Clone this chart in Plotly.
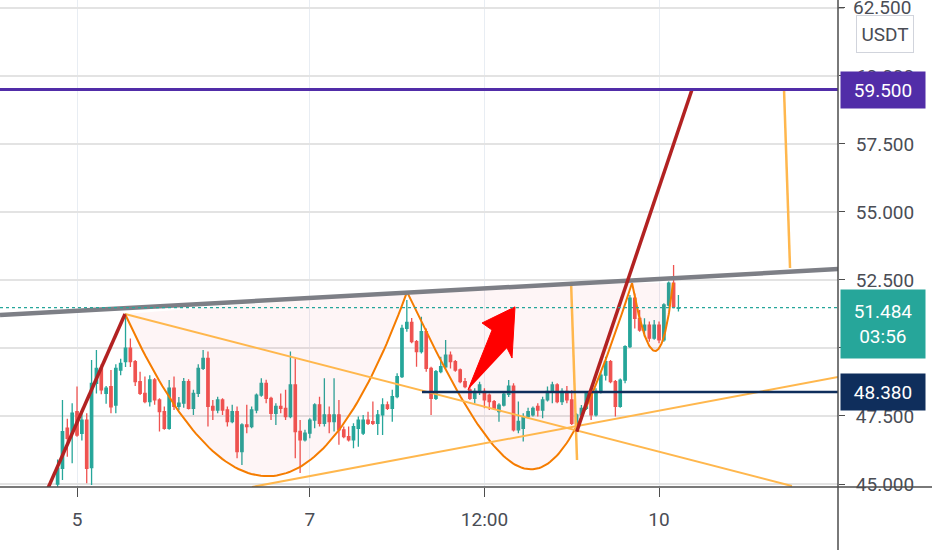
import numpy as np
import pandas as pd
import plotly.graph_objects as go

# hourly candles, hour 0 = day 5 00:00
BASE = pd.Timestamp("2019-11-05 00:00")
hours = list(range(-4, 125))

opens = [45.0, 45.58, 47.05, 46.86, 47.66, 46.86, 47.35, 45.6, 48.7, 49.25,
         48.33, 48.58, 47.9, 49.19, 49.5, 49.99, 49.5, 48.76, 48.33, 48.03,
         48.83, 48.09, 47.66, 47.05, 48.52, 47.85, 47.97, 48.76, 47.78, 48.33,
         49.25, 49.62, 47.85, 47.72, 48.09, 47.72, 47.29, 47.66, 46.19, 47.17,
         47.11, 47.72, 48.27, 48.7, 48.15, 47.6, 47.85, 47.78, 47.48, 48.64,
         46.93, 46.62, 46.87, 47.35, 47.91, 47.23, 47.54, 47.29, 47.54, 46.99,
         46.74, 46.62, 47.05, 46.87, 47.35, 47.29, 47.23, 47.54, 47.91, 47.78,
         48.21, 48.95, 50.72, 50.94, 50.23, 49.87, 50.6, 49.25, 48.15, 49.13,
         49.31, 49.74, 49.5, 49.19, 48.76, 48.46, 48.15, 48.4, 48.4, 48.27,
         48.03, 47.66, 47.9, 48.3, 48.6, 46.99, 47.05, 47.48, 47.54, 47.85,
         47.72, 48.09, 48.4, 48.64, 48.03, 48.4, 48.09, 47.23, 47.54, 47.78,
         48.33, 47.54, 48.4, 49.0, 49.5, 48.76, 47.85, 48.82, 50.05, 51.83,
         51.09, 50.66, 50.84, 50.36, 50.84, 50.3, 51.58, 52.38, 51.46]
highs = [45.9, 48.09, 47.4, 47.97, 48.58, 47.6, 47.6, 49.56, 49.93, 49.4,
         48.6, 49.19, 49.4, 49.6, 51.28, 50.35, 49.56, 49.13, 48.95, 49.0,
         48.9, 48.15, 47.85, 48.82, 48.95, 48.2, 48.9, 48.85, 48.46, 49.4,
         49.93, 49.87, 48.09, 48.21, 48.15, 47.85, 47.91, 47.85, 47.23, 47.91,
         47.85, 48.33, 48.89, 48.83, 48.21, 47.97, 48.33, 48.46, 49.87, 49.62,
         47.35, 46.99, 47.42, 47.97, 48.21, 48.89, 47.85, 48.89, 48.09, 47.11,
         47.11, 47.23, 47.48, 47.54, 47.66, 48.03, 47.72, 48.15, 48.03, 48.46,
         49.07, 50.85, 51.76, 51.1, 50.29, 51.15, 50.72, 49.31, 49.19, 49.68,
         50.29, 49.87, 49.56, 49.25, 48.9, 48.58, 48.52, 48.76, 48.52, 48.33,
         48.09, 47.97, 48.4, 48.82, 48.7, 48.03, 47.6, 47.8, 47.85, 47.97,
         48.21, 48.58, 48.76, 48.7, 48.52, 48.6, 48.45, 47.6, 47.9, 48.4,
         48.4, 48.52, 49.13, 49.68, 49.56, 48.82, 48.88, 50.1, 51.95, 52.0,
         51.4, 51.09, 50.97, 51.03, 50.97, 51.64, 52.44, 53.05, 51.95]
lows = [44.9, 45.15, 46.0, 45.76, 46.74, 46.6, 45.03, 44.96, 48.33, 48.3,
        47.95, 47.6, 47.6, 49.0, 49.3, 49.3, 48.6, 48.27, 47.97, 47.85,
        47.91, 46.93, 46.99, 46.99, 47.72, 47.72, 47.8, 47.74, 47.54, 48.2,
        49.19, 47.11, 47.35, 47.6, 47.54, 47.11, 47.23, 45.95, 45.7, 46.87,
        47.05, 47.6, 48.21, 47.97, 47.35, 47.17, 47.6, 47.35, 47.42, 45.95,
        45.4, 46.56, 46.68, 47.05, 47.11, 47.11, 46.87, 46.93, 46.44, 46.68,
        46.56, 46.31, 46.37, 46.8, 47.17, 47.17, 46.8, 46.8, 47.72, 47.29,
        48.15, 48.9, 50.6, 50.17, 49.31, 49.8, 49.13, 47.54, 48.09, 49.07,
        49.25, 49.25, 49.13, 48.7, 48.52, 48.09, 47.97, 48.27, 47.78, 47.72,
        47.72, 47.29, 47.85, 48.2, 46.93, 46.87, 46.56, 47.42, 47.48, 47.48,
        47.42, 48.03, 47.97, 47.97, 47.9, 47.97, 47.17, 47.1, 47.48, 47.72,
        47.35, 47.48, 48.33, 48.8, 48.7, 47.48, 47.8, 48.7, 50.0, 50.72,
        50.6, 50.42, 50.23, 50.3, 50.17, 50.23, 51.52, 51.46, 51.34]
closes = [45.58, 46.92, 46.68, 47.6, 46.8, 47.35, 45.58, 48.7, 49.25, 48.46,
          48.52, 47.84, 49.25, 49.43, 49.99, 49.5, 48.76, 48.33, 48.03, 48.83,
          48.09, 47.66, 47.05, 48.52, 47.85, 47.97, 48.76, 47.78, 48.33, 49.25,
          49.62, 47.85, 47.72, 48.09, 47.72, 47.29, 47.66, 46.19, 47.17, 47.11,
          47.72, 48.27, 48.7, 48.15, 47.6, 47.85, 47.78, 47.48, 48.64, 46.93,
          46.62, 46.87, 47.35, 47.91, 47.23, 47.54, 47.29, 47.54, 46.99, 46.74,
          46.62, 47.11, 47.35, 47.35, 47.23, 47.23, 47.54, 47.91, 47.78, 48.21,
          48.95, 50.72, 50.94, 50.23, 49.87, 50.6, 49.25, 48.15, 49.13, 49.31,
          49.74, 49.5, 49.19, 48.76, 48.58, 48.15, 48.4, 48.64, 48.09, 48.03,
          47.78, 47.9, 48.3, 48.6, 46.99, 47.3, 47.48, 47.66, 47.78, 47.72,
          48.09, 48.4, 48.64, 48.03, 48.4, 48.09, 47.23, 47.54, 47.78, 48.33,
          47.54, 48.4, 49.0, 49.5, 48.76, 47.85, 48.82, 50.05, 51.83, 51.09,
          50.66, 50.84, 50.36, 50.84, 50.3, 51.58, 52.38, 51.52, 51.484]

LAST_PRICE = 51.484
RESIST = 59.5
SUPPORT = 48.38
TOP_TICK = 62.5
price_ticks = [45, 47.5, 50, 52.5, 55, 57.5, 60, 62.5]
time_ticks = [0, 48, 84, 120]
time_labels = ["5", "7", "12:00", "10"]
x_range = [-15.88, 156.9]
y_range = [44.89, 62.79]

# drawings, (hour, price) anchor points
gray_h, gray_p = [-15.88, 156.9], [51.21, 52.90]
red1_h, red1_p = [-6.6, 9.9], [44.6, 51.25]
red2_h, red2_p = [103.03, 126.8], [46.92, 59.5]
lt1_h, lt1_p = [9.9, 147.4], [51.25, 44.93]
lt2_h, lt2_p = [36.08, 156.9], [44.89, 48.93]
lt3_h, lt3_p = [101.86, 103.09], [52.43, 45.88]
lt4_h, lt4_p = [145.77, 147.01], [59.5, 52.94]
navy_h = [71.13, 156.9]
arc1_h, arc1_p = [9.9, 41.44, 68.04], [51.25, 38.93, 52.06]
arc2_h, arc2_p = [68.04, 91.34, 97.94, 114.43], [52.06, 43.31, 43.31, 52.39]
arc3_h, arc3_p = [114.43, 119.69, 122.89], [52.39, 47.39, 52.39]
arrow_h = [80.62, 85.57, 83.51, 90.31, 89.69, 88.66]
arrow_p = [48.46, 50.66, 50.92, 51.51, 49.63, 50.0]

FONT = "Roboto"
FS = 19
TXT = "#4a4d55"


def t(h):
    return BASE + pd.Timedelta(hours=float(h))


def ts(hs):
    return [t(h) for h in hs]


def bezier(hs, ps, n=90):
    pts = np.column_stack([hs, ps]).astype(float)
    out = []
    for u in np.linspace(0, 1, n):
        p = pts.copy()
        while len(p) > 1:
            p = (1 - u) * p[:-1] + u * p[1:]
        out.append(p[0])
    out = np.array(out)
    return ts(out[:, 0]), out[:, 1]


fig = go.Figure()

fig.add_trace(go.Candlestick(
    x=ts(hours), open=opens, high=highs, low=lows, close=closes,
    increasing=dict(line=dict(color="#26a69a", width=1.3), fillcolor="#26a69a"),
    decreasing=dict(line=dict(color="#ef5350", width=1.3), fillcolor="#ef5350"),
    whiskerwidth=0, hoverinfo="skip", showlegend=False,
))

# filled arcs (cup shapes)
for ah, ap in [(arc1_h, arc1_p), (arc2_h, arc2_p), (arc3_h, arc3_p)]:
    bx, by = bezier(ah, ap)
    fig.add_trace(go.Scatter(x=bx, y=by, mode="lines", fill="toself",
                             fillcolor="rgba(242,54,69,0.05)",
                             line=dict(width=0), hoverinfo="skip", showlegend=False))
    fig.add_trace(go.Scatter(x=bx, y=by, mode="lines",
                             line=dict(color="#f57c00", width=2),
                             hoverinfo="skip", showlegend=False))


def seg(hs, ps, color, width):
    fig.add_trace(go.Scatter(x=ts(hs), y=ps, mode="lines",
                             line=dict(color=color, width=width),
                             hoverinfo="skip", showlegend=False))


seg(lt1_h, lt1_p, "#ffb74d", 2)
seg(lt2_h, lt2_p, "#ffb74d", 2)
seg(lt3_h, lt3_p, "#ffb74d", 2.5)
seg(lt4_h, lt4_p, "#ffb74d", 2.5)
seg(gray_h, gray_p, "#7d7f86", 4.5)
seg(navy_h, [SUPPORT, SUPPORT], "#0f2e5c", 2.5)
seg(red1_h, red1_p, "#b22222", 3.5)
seg(red2_h, red2_p, "#b22222", 3.5)

fig.add_trace(go.Scatter(x=ts(arrow_h), y=arrow_p, mode="lines", fill="toself",
                         fillcolor="#ff0000", line=dict(color="#ff0000", width=1),
                         hoverinfo="skip", showlegend=False))

fig.add_hline(y=RESIST, line=dict(color="#512da8", width=3))
fig.add_hline(y=LAST_PRICE, line=dict(color="#26a69a", width=1.2, dash="dot"))

# axis lines extending into the margins
fig.add_shape(type="line", xref="paper", yref="paper", x0=1, x1=1, y0=-63 / 487, y1=1,
              line=dict(color="#4d4d4d", width=1.5))
fig.add_shape(type="line", xref="paper", yref="paper", x0=0, x1=932 / 838, y0=0, y1=0,
              line=dict(color="#4d4d4d", width=1.5))

# top tick label sits on the page edge; plotly drops it, so draw it by hand
fig.add_shape(type="line", xref="paper", yref="y", x0=1, x1=1 + 6 / 838,
              y0=TOP_TICK, y1=TOP_TICK, line=dict(color="#4d4d4d", width=1))
fig.add_annotation(xref="paper", yref="y", x=1 + 13 / 838, y=TOP_TICK, xanchor="left",
                   yanchor="middle", text=f"{TOP_TICK:.3f}", showarrow=False,
                   font=dict(family=FONT, size=FS, color=TXT))

lab = dict(xref="paper", x=1.0025, xanchor="left", showarrow=False,
           font=dict(family=FONT, size=FS, color="white"), width=80, borderpad=2)
fig.add_annotation(y=RESIST, yref="y", text=f"{RESIST:.3f}", bgcolor="#512da8", height=32, **lab)
fig.add_annotation(y=LAST_PRICE, yref="y", yanchor="top", yshift=19,
                   text=f"{LAST_PRICE:.3f}<br>03:56", bgcolor="#26a69a", height=64, **lab)
fig.add_annotation(y=SUPPORT, yref="y", text=f"{SUPPORT:.3f}", bgcolor="#0f2e5c", height=32, **lab)
fig.add_annotation(xref="paper", yref="paper", x=885 / 838, y=1 - 34 / 487,
                   xanchor="center", yanchor="middle", text="USDT", width=48, height=28,
                   showarrow=False, bgcolor="white", bordercolor="#d1d4dc", borderwidth=1,
                   borderpad=4, font=dict(family=FONT, size=FS, color=TXT))

fig.update_layout(
    width=932, height=550,
    margin=dict(l=0, r=94, t=0, b=63),
    paper_bgcolor="white", plot_bgcolor="white",
    font=dict(family=FONT, size=FS, color=TXT),
    showlegend=False,
    xaxis=dict(type="date", range=[t(x_range[0]), t(x_range[1])],
               tickvals=ts(time_ticks), ticktext=time_labels,
               showgrid=True, gridcolor="#e8edf3", gridwidth=1,
               showline=False, ticks="outside", ticklen=9, tickcolor="#4d4d4d",
               ticklabelstandoff=6, zeroline=False, rangeslider=dict(visible=False)),
    yaxis=dict(side="right", range=y_range, tickvals=price_ticks, tickformat=".3f",
               showgrid=True, gridcolor="#e3e3e3", gridwidth=1.5,
               showline=False, ticks="outside", ticklen=6, tickcolor="#4d4d4d",
               ticklabelstandoff=7, zeroline=False),
)

fig.write_html("out.html", config={"displayModeBar": False},
               post_script="document.body.style.margin='0px';")
